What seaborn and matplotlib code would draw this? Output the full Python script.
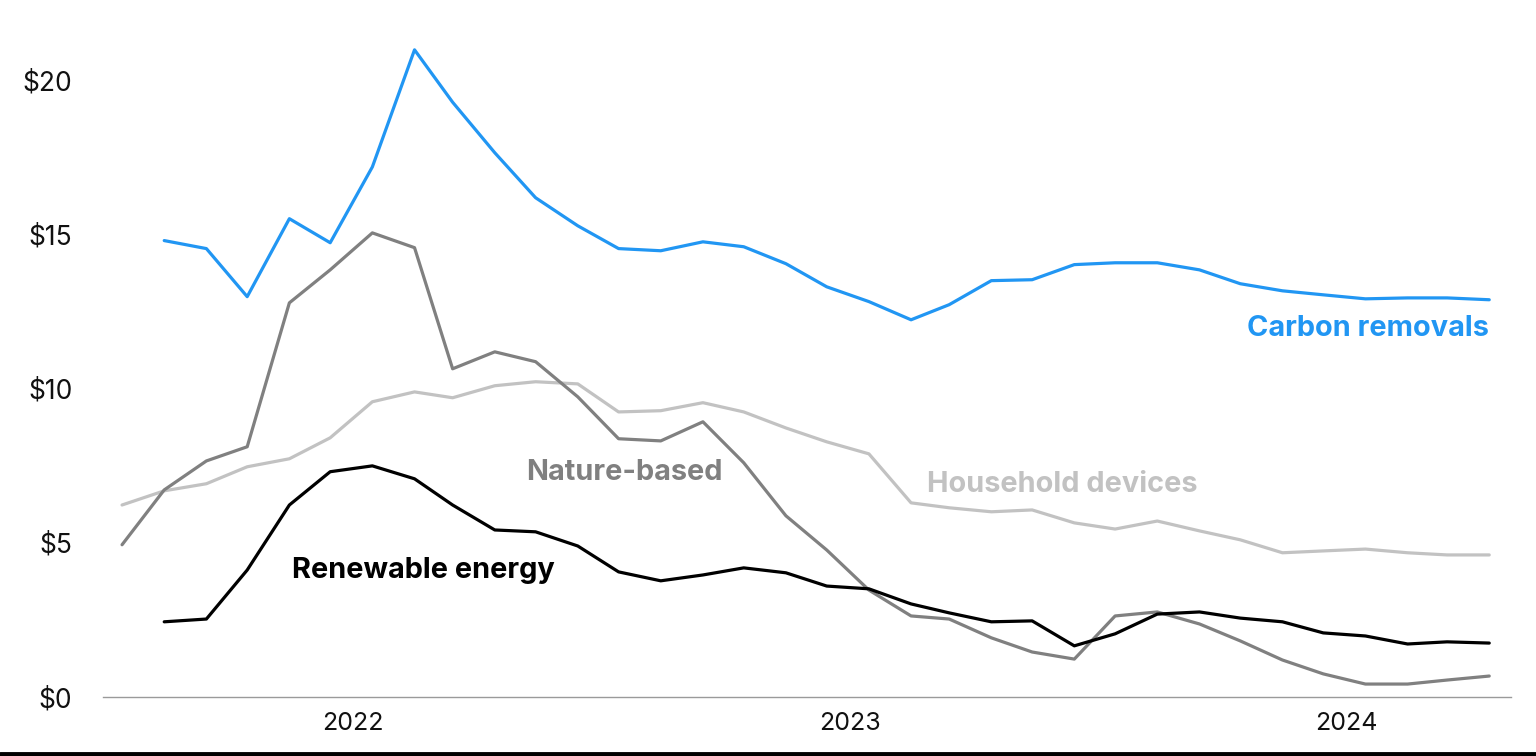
import numpy as np
import pandas as pd
import seaborn as sns
import matplotlib.pyplot as plt
import matplotlib.dates as mdates
from matplotlib.lines import Line2D

# monthly values, July 2021 .. April 2024 (plotted mid-month)
months = pd.period_range("2021-07", "2024-04", freq="M")

carbon_removals = [
    np.nan, 14.81, 14.55, 12.99, 15.52, 14.74, 17.2, 21.0, 19.3, 17.66,
    16.2, 15.29, 14.55, 14.48, 14.77, 14.61, 14.06, 13.31, 12.83, 12.24,
    12.73, 13.51, 13.54, 14.03, 14.09, 14.09, 13.86, 13.41, 13.18, 13.05,
    12.92, 12.95, 12.95, 12.89,
]
nature_based = [
    4.94, 6.72, 7.66, 8.12, 12.79, 13.86, 15.06, 14.58, 10.65, 11.2,
    10.88, 9.74, 8.38, 8.31, 8.93, 7.6, 5.88, 4.77, 3.47, 2.63,
    2.53, 1.92, 1.46, 1.23, 2.63, 2.76, 2.37, 1.82, 1.2, 0.75,
    0.42, 0.42, 0.55, 0.68,
]
household_devices = [
    6.23, 6.69, 6.92, 7.47, 7.73, 8.41, 9.58, 9.9, 9.71, 10.1,
    10.23, 10.16, 9.25, 9.29, 9.55, 9.25, 8.73, 8.28, 7.89, 6.3,
    6.14, 6.01, 6.07, 5.65, 5.45, 5.71, 5.39, 5.1, 4.68, 4.74,
    4.8, 4.68, 4.61, 4.61,
]
renewable_energy = [
    np.nan, 2.44, 2.53, 4.12, 6.23, 7.31, 7.5, 7.08, 6.23, 5.42,
    5.36, 4.9, 4.06, 3.77, 3.96, 4.19, 4.03, 3.6, 3.51, 3.02,
    2.73, 2.44, 2.47, 1.66, 2.05, 2.69, 2.76, 2.56, 2.44, 2.08,
    1.98, 1.72, 1.79, 1.75,
]

series = {
    "Household devices": household_devices,
    "Nature-based": nature_based,
    "Renewable energy": renewable_energy,
    "Carbon removals": carbon_removals,
}
colors = {
    "Household devices": "#c2c2c2",
    "Nature-based": "#808080",
    "Renewable energy": "#000000",
    "Carbon removals": "#2196f3",
}

dates = months.to_timestamp() + pd.Timedelta(days=14)
df = pd.DataFrame({"date": dates, **series}).melt(
    id_vars="date", var_name="type", value_name="price"
).dropna()

sns.set_style("white")
plt.rcParams["font.family"] = ["Inter", "DejaVu Sans"]

fig = plt.figure(figsize=(15.36, 7.56), dpi=100)
ax = fig.add_axes([103 / 1536, 59 / 756, 1408 / 1536, 678 / 756])

sns.lineplot(
    data=df, x="date", y="price", hue="type", palette=colors,
    hue_order=list(series.keys()), linewidth=2.3, legend=False, ax=ax,
)

ax.set_xlim(pd.Timestamp("2021-07-01"), pd.Timestamp("2024-05-01"))
ax.set_ylim(0, 22)
ax.set_yticks([0, 5, 10, 15, 20])
ax.set_yticklabels(["$0", "$5", "$10", "$15", "$20"])
ax.xaxis.set_major_locator(mdates.YearLocator())
ax.xaxis.set_major_formatter(mdates.DateFormatter("%Y"))
ax.set_xlabel("")
ax.set_ylabel("")

for side in ["left", "right", "top"]:
    ax.spines[side].set_visible(False)
ax.spines["bottom"].set_color("#9a9a9a")
ax.spines["bottom"].set_linewidth(1.0)
ax.tick_params(axis="y", length=0, pad=22, labelsize=19, labelcolor="#111111")
ax.tick_params(axis="x", length=6.5, width=1, color="#9a9a9a", pad=4,
               labelsize=18, labelcolor="#111111")

label_style = dict(fontsize=20.8, fontweight="bold")
ax.text(pd.Timestamp("2024-04-15"), 11.97, "Carbon removals", color=colors["Carbon removals"],
        ha="right", va="center", **label_style)
ax.text(pd.Timestamp("2023-02-27"), 6.9, "Household devices", color=colors["Household devices"],
        ha="left", va="center", **label_style)
ax.text(pd.Timestamp("2022-05-08"), 7.3, "Nature-based", color=colors["Nature-based"],
        ha="left", va="center", **label_style)
ax.text(pd.Timestamp("2021-11-17"), 4.1, "Renewable energy", color=colors["Renewable energy"],
        ha="left", va="center", **label_style)

# black rule along the bottom edge
fig.add_artist(Line2D([0, 1], [0.0025, 0.0025], transform=fig.transFigure,
                      color="black", linewidth=3.5))

fig.savefig("out.png", dpi=100)
